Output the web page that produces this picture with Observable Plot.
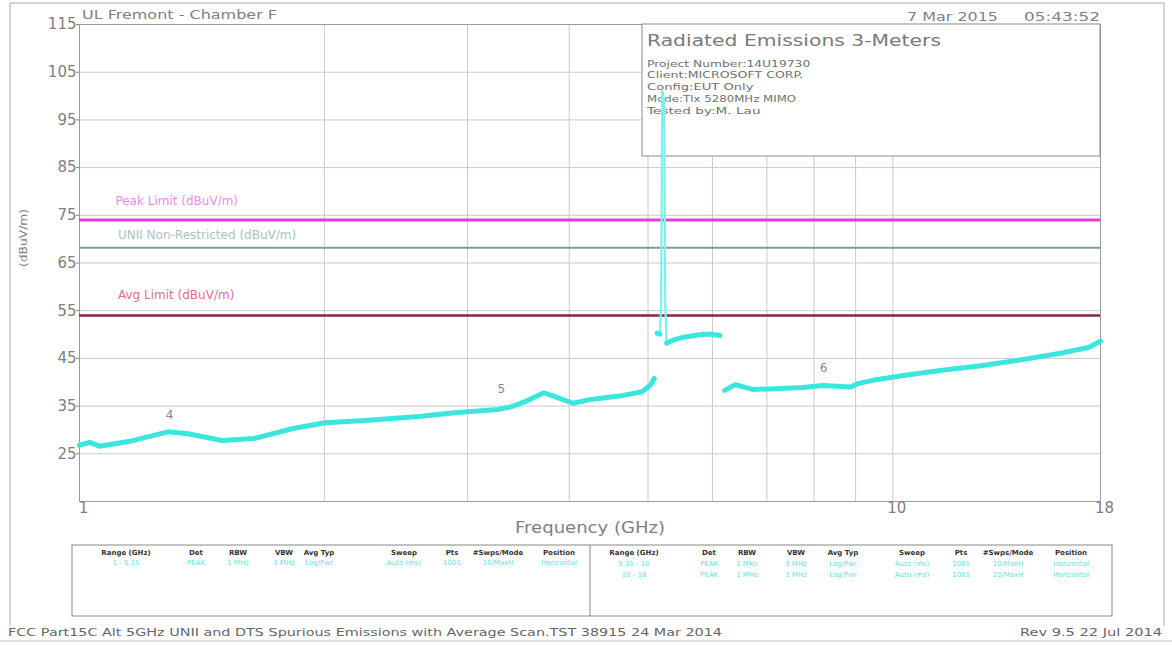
<!DOCTYPE html>
<html><head><meta charset="utf-8">
<script src="https://cdn.jsdelivr.net/npm/d3@7"></script>
<script src="https://cdn.jsdelivr.net/npm/@observablehq/plot@0.6"></script>
<style>html,body{margin:0;padding:0;background:#fff;overflow:hidden}</style>
</head><body><div id="chart"></div>
<script>
// ---- data ----
const freqLow  = [1.0,1.029,1.058,1.159,1.284,1.359,1.497,1.639,1.830,2.005,2.246,2.611,2.892,3.268,3.400,3.538,3.723,3.842,4.043,4.254,4.607,4.917,5.030,5.089];
const levelLow = [26.8,27.4,26.6,27.7,29.6,29.2,27.8,28.2,30.3,31.5,32.0,32.8,33.6,34.3,34.9,36.0,37.8,37.0,35.6,36.4,37.1,38.0,39.3,40.8];
const freqBandA  = [5.13,5.17];
const levelBandA = [50.3,50.1];
const freqSpike  = [5.17,5.19,5.205,5.215,5.235,5.25,5.27];
const levelSpike = [50.1,56,101,101,99,56,48.2];
const freqBandB  = [5.27,5.30,5.40,5.55,5.75,5.95,6.13];
const levelBandB = [48.2,48.4,49.0,49.5,49.9,50.1,49.8];
const freqHigh  = [6.21,6.40,6.72,7.05,7.75,8.20,8.88,9.05,9.45,10.3,11.5,12.9,14.5,16.2,17.4,18.0];
const levelHigh = [38.3,39.5,38.5,38.6,38.9,39.3,39.0,39.7,40.4,41.4,42.5,43.5,44.8,46.2,47.3,48.6];
const markerFreq  = [1.29,3.30,8.22];
const markerLevel = [29.6,35.0,39.3];
const markerLabel = ["4","5","6"];
const limitNames  = ["Peak Limit (dBuV/m)","UNII Non-Restricted (dBuV/m)","Avg Limit (dBuV/m)"];
const limitValues = [74,68.2,54];
const gridFreq  = [2,3,4,5,6,7,8,9,10];
const gridLevel = [25,35,45,55,65,75,85,95,105];
const yTicks = [25,35,45,55,65,75,85,95,105,115];
const xTicks = [1,10,18];
const infoLines = ["Project Number:14U19730","Client:MICROSOFT CORP.","Config:EUT Only","Mode:Tlx 5280MHz MIMO","Tested by:M. Lau"];
const tableHeaders = ["Range (GHz)","Det","RBW","VBW","Avg Typ","Sweep","Pts","#Swps/Mode","Position"];
const tableRowLeft = ["1 - 5.15","PEAK","1 MHz","3 MHz","Log/Pwr","Auto (ms)","1001","10/MaxH","Horizontal"];
const tableRowsRight = [
  ["5.35 - 10","PEAK","1 MHz","3 MHz","Log/Pwr","Auto (ms)","1001","10/MaxH","Horizontal"],
  ["10 - 18","PEAK","1 MHz","3 MHz","Log/Pwr","Auto (ms)","1001","10/MaxH","Horizontal"]
];

// ---- tables for the trace ----
const thick = [
  ...freqLow.map((f,i)=>({f, v:levelLow[i], seg:"low"})),
  ...freqBandA.map((f,i)=>({f, v:levelBandA[i], seg:"bandA"})),
  ...freqBandB.map((f,i)=>({f, v:levelBandB[i], seg:"bandB"})),
  ...freqHigh.map((f,i)=>({f, v:levelHigh[i], seg:"high"}))
];
const spike = freqSpike.map((f,i)=>({f, v:levelSpike[i]}));
const markers = markerFreq.map((f,i)=>({f, v:markerLevel[i], label:markerLabel[i]}));
const limits = limitNames.map((n,i)=>({name:n, v:limitValues[i]}));

const FONT = "DejaVu Sans";
const TRACE = "#3be6de";
const chart = Plot.plot({
  width:1172, height:645,
  marginTop:24, marginBottom:144, marginLeft:79, marginRight:72,
  x:{type:"log", domain:[1,18]},
  y:{domain:[15,115]},
  style:{fontFamily:FONT, background:"#fff", color:"#808080"},
  marks:[
    Plot.ruleX(gridFreq,{stroke:"#c9c9c9", strokeWidth:1}),
    Plot.ruleY(gridLevel,{stroke:"#c9c9c9", strokeWidth:1}),
    Plot.frame({stroke:"#9a9a9a"}),
    Plot.axisY(yTicks,{tickSize:3, tickPadding:0, fontSize:15, label:null, tickFormat:d=>String(d)}),
    Plot.axisX(xTicks,{tickSize:0, tickPadding:1, fontSize:15, label:null, tickFormat:d=>String(d), dx:4}),
    Plot.ruleY([limits[0]],{y:"v", stroke:"#e23fd8", strokeWidth:3}),
    Plot.ruleY([limits[1]],{y:"v", stroke:"#7e9c9c", strokeWidth:2}),
    Plot.ruleY([limits[2]],{y:"v", stroke:"#7a2c44", strokeWidth:2.5}),
    Plot.text([limits[0]],{x:()=>1.107, y:"v", text:"name", dy:-19, textAnchor:"start", fill:"#ee8be6", fontSize:12}),
    Plot.text([limits[1]],{x:()=>1.115, y:"v", text:"name", dy:-13, textAnchor:"start", fill:"#a9c4c4", fontSize:12}),
    Plot.text([limits[2]],{x:()=>1.115, y:"v", text:"name", dy:-20, textAnchor:"start", fill:"#e0708e", fontSize:12}),
    Plot.line(spike,{x:"f", y:"v", stroke:"#7ef0ea", strokeWidth:2.2, strokeLinejoin:"round"}),
    Plot.line(thick,{x:"f", y:"v", z:"seg", stroke:TRACE, strokeWidth:5, strokeLinejoin:"round"}),
    Plot.text(markers,{x:"f", y:"v", text:"label", dy:-17, fill:"#888", fontSize:12})
  ]
});
document.getElementById("chart").appendChild(chart);

// ---- annotations ----
const svg = d3.select(chart);
function txt(g, x, y, s, o={}) {
  const t = g.append("text").attr("x",x).attr("y",y).text(s)
    .attr("font-family",FONT).attr("font-size",o.size||12)
    .attr("fill",o.fill||"#808080").attr("dominant-baseline","middle")
    .attr("text-anchor",o.anchor||"start");
  if (o.len) t.attr("textLength",o.len).attr("lengthAdjust","spacingAndGlyphs");
  if (o.weight) t.attr("font-weight",o.weight);
  if (o.rotate) t.attr("transform",`rotate(${o.rotate},${x},${y})`);
  return t;
}
// info box, inserted under the trace
const lineG = chart.querySelector('g[aria-label="line"]');
const box = document.createElementNS("http://www.w3.org/2000/svg","g");
chart.insertBefore(box, lineG);
const bg = d3.select(box);
bg.append("rect").attr("x",642).attr("y",24).attr("width",458).attr("height",132)
  .attr("fill","#fff").attr("stroke","#8a8a8a");
txt(bg, 647, 41, "Radiated Emissions 3-Meters", {size:15, len:294, fill:"#7a7a7a"});
infoLines.forEach((s,i)=>txt(bg, 647, 64 + i*11.8, s, {size:9, fill:"#707070", len: s.length*7.1}));

const ann = svg.append("g");
// outer frame
ann.append("path").attr("d","M10,626V3H1164V626").attr("fill","none").attr("stroke","#aaa");
txt(ann, 82, 15, "UL Fremont - Chamber F", {size:13, len:195});
txt(ann, 907, 17, "7 Mar 2015", {size:13, len:91});
txt(ann, 1024, 17, "05:43:52", {size:13, len:76});
txt(ann, 24, 238, "(dBuV/m)", {size:11, rotate:-90, anchor:"middle", len:58});
txt(ann, 590, 528, "Frequency (GHz)", {size:15, anchor:"middle", len:150});
// setup table
ann.append("rect").attr("x",72).attr("y",545).attr("width",1040).attr("height",71)
  .attr("fill","none").attr("stroke","#888");
ann.append("line").attr("x1",590).attr("x2",590).attr("y1",545).attr("y2",616).attr("stroke","#888");
const colL = [126,196,238,284,319,404,452,498,559];
const colR = [634,709,747,796,843,912,961,1008,1071];
tableHeaders.forEach((h,i)=>{
  txt(ann, colL[i], 553, h, {size:7, anchor:"middle", fill:"#333", weight:"bold"});
  txt(ann, colR[i], 553, h, {size:7, anchor:"middle", fill:"#333", weight:"bold"});
});
tableRowLeft.forEach((s,i)=>txt(ann, colL[i], 563, s, {size:7, anchor:"middle", fill:"#5fdfdf"}));
tableRowsRight.forEach((row,r)=>row.forEach((s,i)=>txt(ann, colR[i], 564 + r*11, s, {size:7, anchor:"middle", fill:"#5fdfdf"})));
// footer
txt(ann, 8, 633, "FCC Part15C Alt 5GHz UNII and DTS Spurious Emissions with Average Scan.TST 38915 24 Mar 2014", {size:11, len:714, fill:"#666"});
txt(ann, 1162, 633, "Rev 9.5 22 Jul 2014", {size:11, anchor:"end", fill:"#666", len:142});
ann.append("line").attr("x1",0).attr("x2",1172).attr("y1",641).attr("y2",641).attr("stroke","#bbb");
</script></body></html>
